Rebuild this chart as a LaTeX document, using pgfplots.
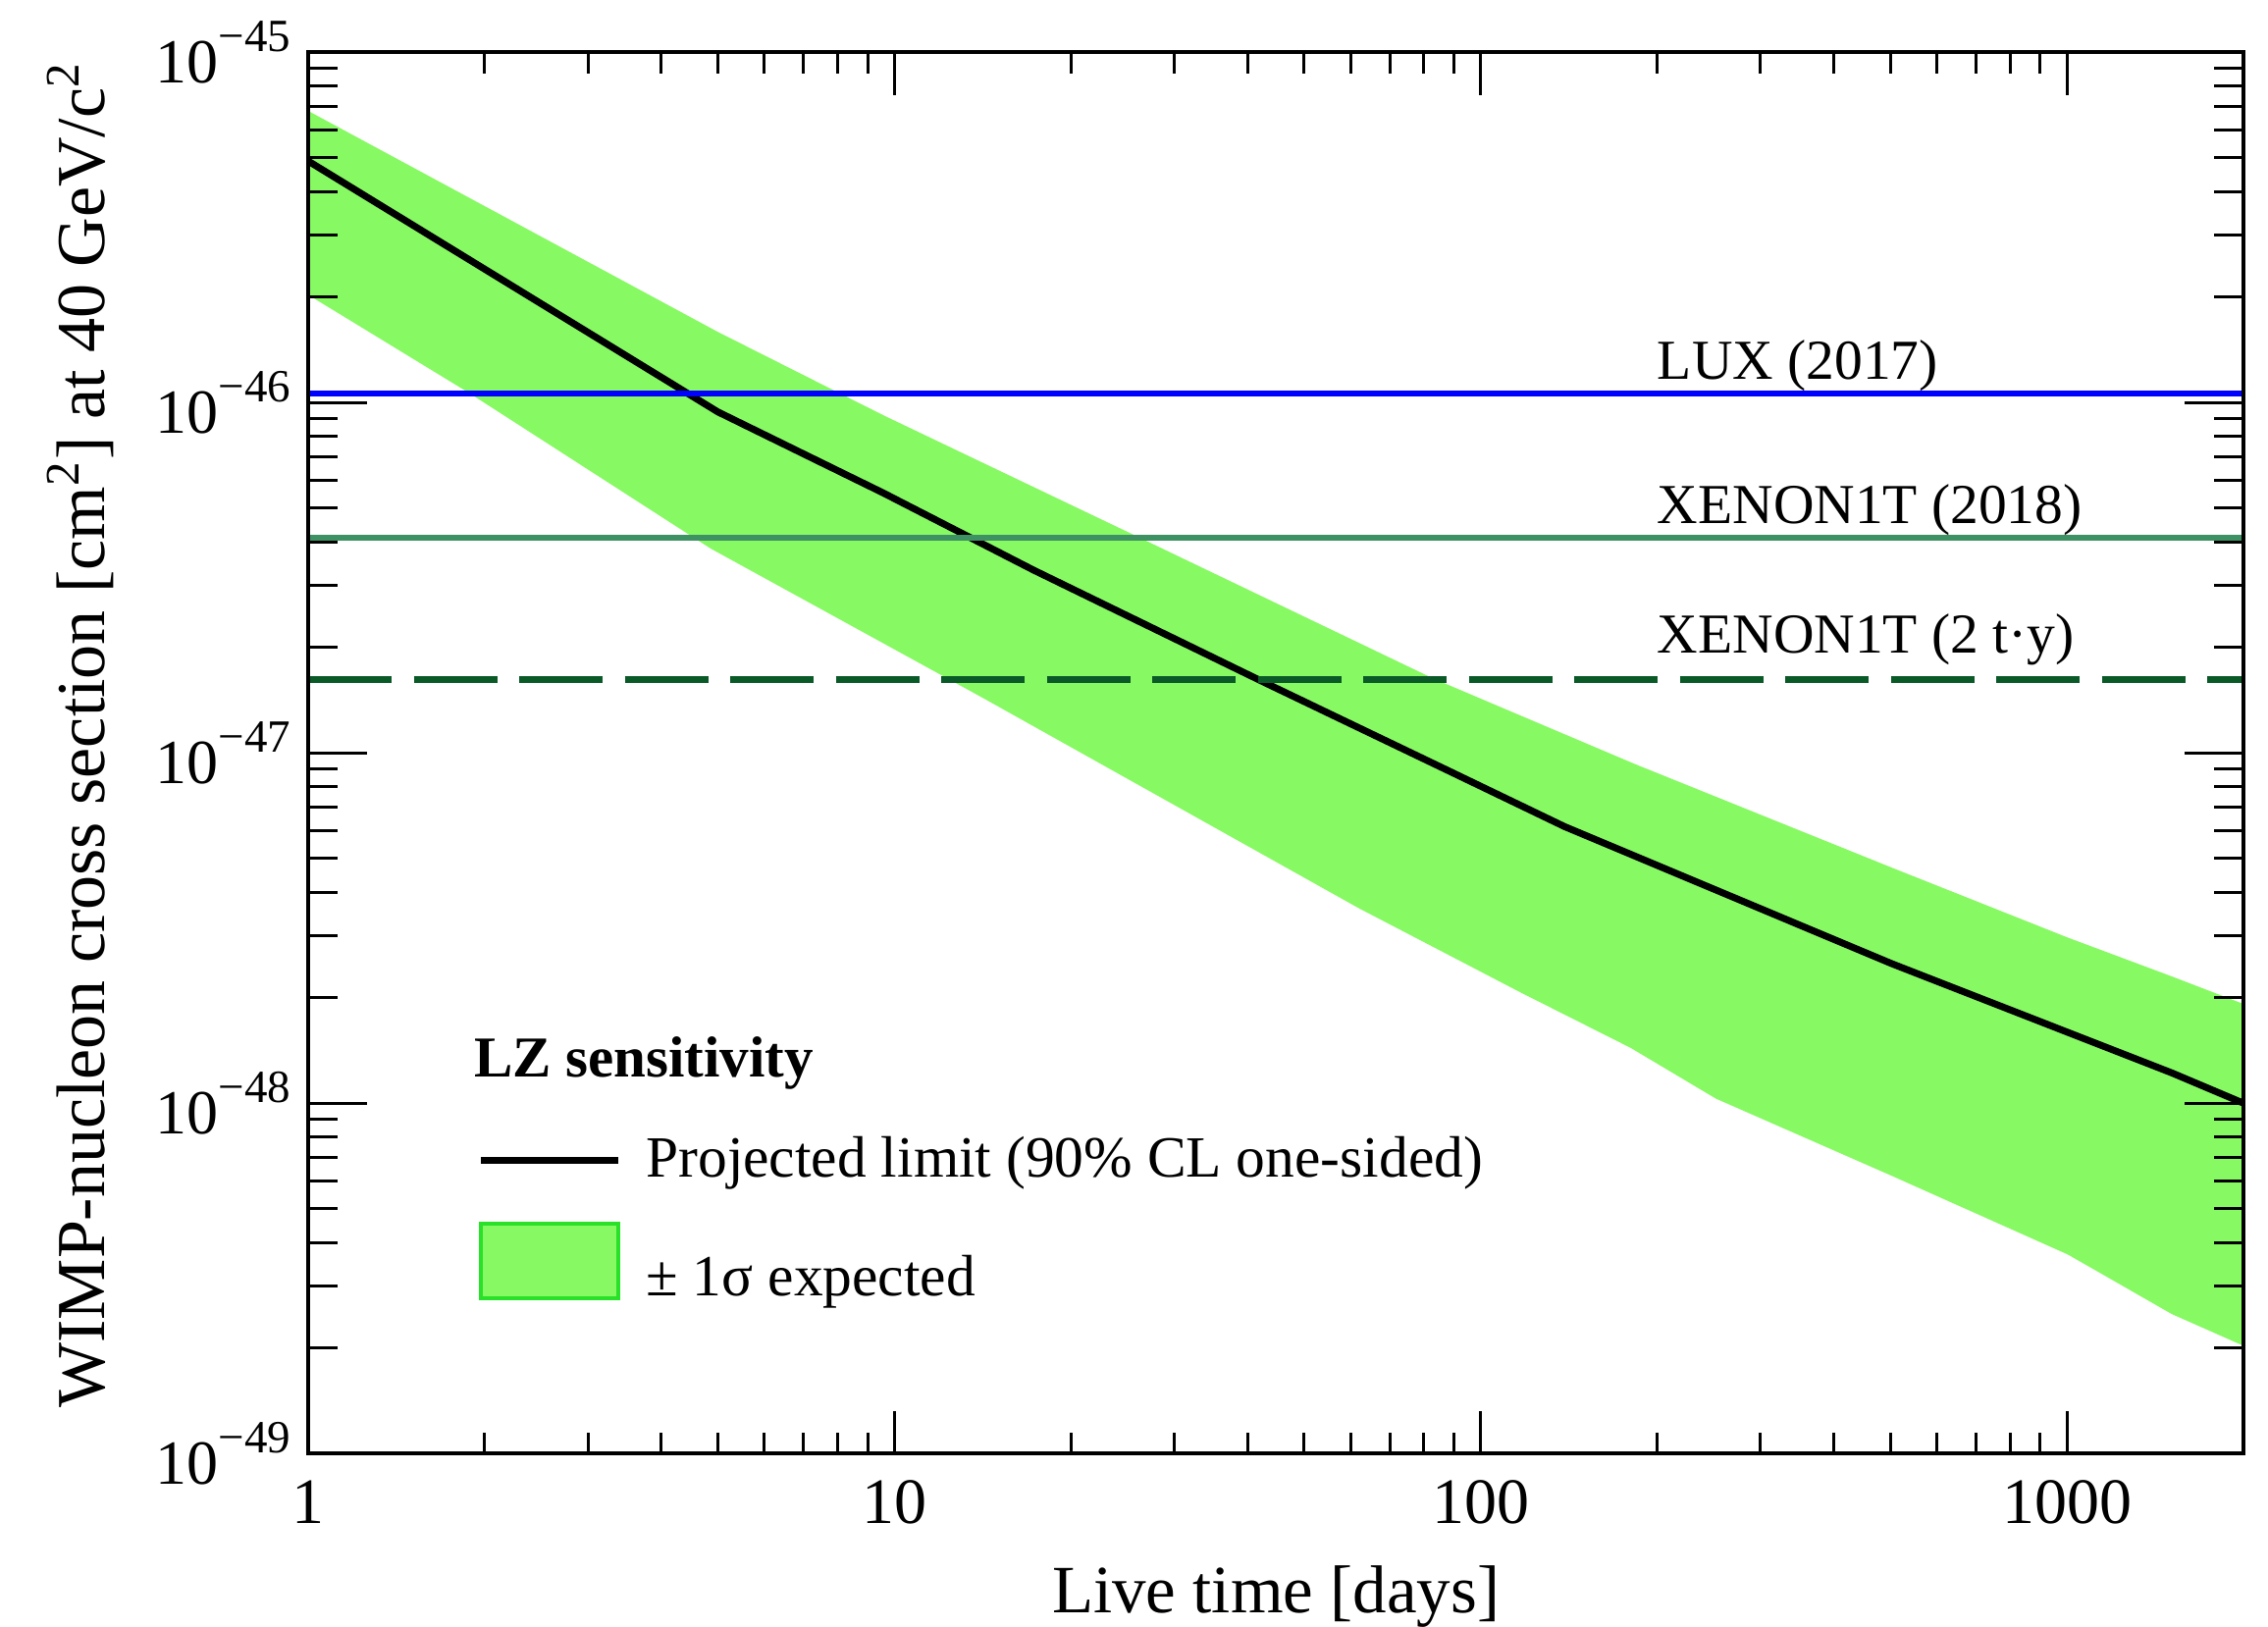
\documentclass[border=0pt]{standalone}
\usepackage{fontspec}
\setmainfont{Liberation Serif}
\usepackage{pgfplots}
\pgfplotsset{compat=1.18}
\definecolor{bandgreen}{RGB}{135,249,99}
\definecolor{edgegreen}{RGB}{40,225,40}
\definecolor{luxblue}{RGB}{0,0,255}
\definecolor{xeA}{RGB}{61,145,98}
\definecolor{xeB}{RGB}{10,90,40}
\newcommand{\tenexp}[1]{10\raisebox{6.4pt}{\fontsize{9.4}{10}\selectfont −#1}}
\begin{document}
\begin{tikzpicture}
\useasboundingbox (-62.8pt,-35.2pt) rectangle (399.4pt,296.2pt);
\begin{axis}[
  at={(0pt,0pt)}, anchor=south west,
  scale only axis, width=394.4pt, height=285.6pt,
  xmode=log, ymode=log,
  xmin=1, xmax=2000, ymin=1e-49, ymax=1e-45,
  axis on top,
  tick align=inside, tick pos=both,
  major tick length=12pt, minor tick length=6pt,
  tick style={black, line width=0.6pt},
  axis line style={line width=0.7pt},
  xtick=\empty, minor xtick={},
  ytick={1e-49,1e-48,1e-47,1e-46,1e-45},
  yticklabels={\tenexp{49},\tenexp{48},\tenexp{47},\tenexp{46},\tenexp{45}},
  minor ytick={2e-49,3e-49,4e-49,5e-49,6e-49,7e-49,8e-49,9e-49,
               2e-48,3e-48,4e-48,5e-48,6e-48,7e-48,8e-48,9e-48,
               2e-47,3e-47,4e-47,5e-47,6e-47,7e-47,8e-47,9e-47,
               2e-46,3e-46,4e-46,5e-46,6e-46,7e-46,8e-46,9e-46},
  yticklabel style={font=\fontsize{12.8}{14}\selectfont},
  ylabel={WIMP-nucleon cross section [cm\textsuperscript{2}] at 40 GeV/c\textsuperscript{2}},
  ylabel style={at={(axis description cs:-0.105,0.513)}, anchor=base, font=\fontsize{14}{16}\selectfont},
  legend style={draw=none, fill=none, at={(rel axis cs:0.0793,0.234)}, anchor=north west,
    font=\fontsize{11.9}{14}\selectfont, row sep=7.6pt, column sep=5pt,
    nodes={inner sep=0pt}},
  legend cell align=left,
]
\addplot[draw=none, fill=bandgreen, forget plot] coordinates {
 (1,6.8e-46) (5,1.59e-46) (9.57,9.2e-47) (25.6,4.19e-47) (83,1.63e-47)
 (183,9.3e-48) (503,4.7e-48) (1003,2.97e-48) (1510,2.30e-48) (2000,1.92e-48)
 (2000,2.03e-49) (1510,2.5e-49) (1003,3.7e-49) (503,6.2e-49) (252,1.03e-48)
 (180,1.44e-48) (117,2.07e-48) (62,3.6e-48) (14.1,1.44e-47) (4.86,3.83e-47)
 (1.89,1.06e-46) (1,2.03e-46)
} -- cycle;
\addplot[black, line width=1.4pt, forget plot] coordinates {
 (1,4.89e-46) (5,9.4e-47) (9.57,5.52e-47) (17.3,3.32e-47) (42.7,1.59e-47)
 (88,8.9e-48) (139,6.16e-48) (503,2.50e-48) (1510,1.22e-48) (2000,1.0e-48)
};
\addplot[luxblue, line width=1.3pt, forget plot] coordinates {(1,1.06e-46) (2000,1.06e-46)};
\addplot[xeA, line width=1.1pt, forget plot] coordinates {(1,4.11e-47) (2000,4.11e-47)};
\addplot[xeB, line width=1.3pt, dash pattern=on 17pt off 4.5pt, forget plot] coordinates {(1,1.62e-47) (2000,1.62e-47)};
\node[anchor=base west, inner sep=0pt, yshift=3pt, font=\fontsize{11.5}{13}\selectfont] at (axis cs:199.5,1.06e-46) {LUX (2017)};
\node[anchor=base west, inner sep=0pt, yshift=3pt, font=\fontsize{11.5}{13}\selectfont] at (axis cs:199.5,4.11e-47) {XENON1T (2018)};
\node[anchor=base west, inner sep=0pt, yshift=5.4pt, font=\fontsize{11.5}{13}\selectfont] at (axis cs:199.5,1.62e-47) {XENON1T (2 t·y)};
\node[anchor=base west, inner sep=0pt, font=\bfseries\fontsize{11.8}{14}\selectfont] at (rel axis cs:0.0852,0.2689) {LZ sensitivity};
\addlegendimage{legend image code/.code={\draw[black, line width=1.4pt] (0pt,0pt) -- (28pt,0pt);}}
\addlegendentry{Projected limit (90\% CL one-sided)}
\addlegendimage{legend image code/.code={\draw[fill=bandgreen, draw=edgegreen, line width=0.8pt] (0pt,-3.8pt) rectangle (28pt,11.4pt);}}
\addlegendentry{± 1σ expected}
\end{axis}
\begin{axis}[
  at={(0pt,0pt)}, anchor=south west,
  scale only axis, width=394.4pt, height=285.6pt,
  xmode=log, ymode=log,
  xmin=1, xmax=2000, ymin=1e-49, ymax=1e-45,
  tick align=inside, tick pos=both,
  major tick length=8.7pt, minor tick length=4.3pt,
  tick style={black, line width=0.6pt},
  axis line style={line width=0.7pt},
  ytick=\empty, minor ytick={},
  xtick={1,10,100,1000}, xticklabels={1,10,100,1000},
  minor xtick={2,3,4,5,6,7,8,9,20,30,40,50,60,70,80,90,200,300,400,500,600,700,800,900},
  xticklabel style={font=\fontsize{13.2}{15}\selectfont, yshift=-2pt},
  xlabel={Live time [days]},
  xlabel style={at={(axis description cs:0.5,0)}, anchor=base, yshift=-32.4pt, font=\fontsize{13.8}{16}\selectfont},
]
\end{axis}
\end{tikzpicture}
\end{document}
